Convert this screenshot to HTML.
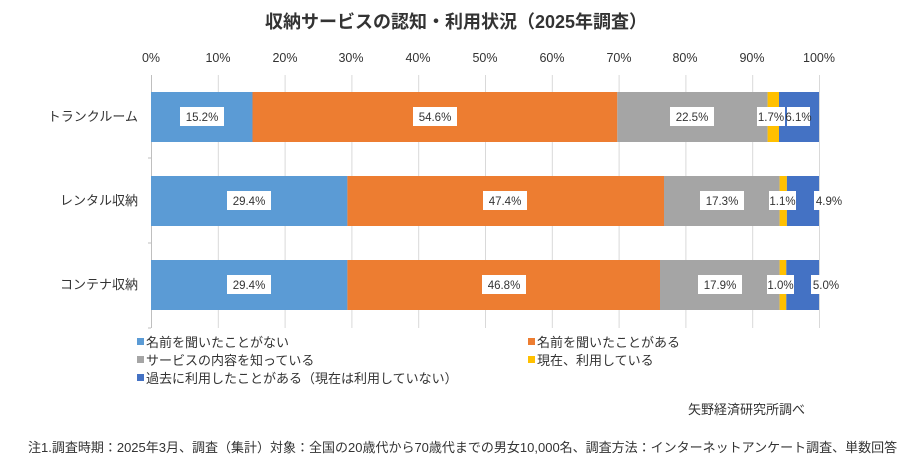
<!DOCTYPE html>
<html><head><meta charset="utf-8"><style>
body{margin:0;background:#fff;}
svg text{font-family:"Liberation Sans","Noto Sans CJK JP",sans-serif;fill:#333;}
</style></head><body>
<svg width="912" height="466" xmlns="http://www.w3.org/2000/svg">
<rect width="912" height="466" fill="#fff"/>
<text x="456" y="28" text-anchor="middle" font-size="18" font-weight="bold" fill="#555">収納サービスの認知・利用状況（2025年調査）</text>
<g font-size="12.5" text-anchor="middle">
<text x="151" y="62">0%</text><text x="218" y="62">10%</text><text x="285" y="62">20%</text><text x="351" y="62">30%</text><text x="418" y="62">40%</text><text x="485" y="62">50%</text><text x="552" y="62">60%</text><text x="619" y="62">70%</text><text x="685" y="62">80%</text><text x="752" y="62">90%</text><text x="819" y="62">100%</text>
</g>
<g stroke="#d9d9d9" stroke-width="1">
<line x1="151.5" y1="75" x2="151.5" y2="328" stroke="#bfbfbf"/>
<line x1="218.3" y1="75" x2="218.3" y2="328"/><line x1="285.1" y1="75" x2="285.1" y2="328"/><line x1="351.9" y1="75" x2="351.9" y2="328"/><line x1="418.7" y1="75" x2="418.7" y2="328"/><line x1="485.5" y1="75" x2="485.5" y2="328"/><line x1="552.3" y1="75" x2="552.3" y2="328"/><line x1="619.1" y1="75" x2="619.1" y2="328"/><line x1="685.9" y1="75" x2="685.9" y2="328"/><line x1="752.7" y1="75" x2="752.7" y2="328"/><line x1="819.5" y1="75" x2="819.5" y2="328"/>
</g>
<g stroke="#bfbfbf"><line x1="148" y1="158" x2="151" y2="158"/><line x1="148" y1="243" x2="151" y2="243"/><line x1="148" y1="328" x2="151" y2="328"/></g>
<rect x="151" y="92" width="101.5" height="50" fill="#5b9bd5"/>
<rect x="252.5" y="92" width="364.8" height="50" fill="#ed7d31"/>
<rect x="617.3" y="92" width="150.3" height="50" fill="#a5a5a5"/>
<rect x="767.6" y="92" width="11.4" height="50" fill="#ffc000"/>
<rect x="779" y="92" width="40" height="50" fill="#4472c4"/>
<rect x="151" y="176" width="196.4" height="50" fill="#5b9bd5"/>
<rect x="347.4" y="176" width="316.6" height="50" fill="#ed7d31"/>
<rect x="664" y="176" width="115.6" height="50" fill="#a5a5a5"/>
<rect x="779.6" y="176" width="7.3" height="50" fill="#ffc000"/>
<rect x="786.9" y="176" width="32.1" height="50" fill="#4472c4"/>
<rect x="151" y="260" width="196.4" height="50" fill="#5b9bd5"/>
<rect x="347.4" y="260" width="312.6" height="50" fill="#ed7d31"/>
<rect x="660" y="260" width="119.6" height="50" fill="#a5a5a5"/>
<rect x="779.6" y="260" width="6.7" height="50" fill="#ffc000"/>
<rect x="786.3" y="260" width="32.7" height="50" fill="#4472c4"/>
<g font-size="11.5" text-anchor="middle">
<g fill="#fff">
<rect x="180" y="107" width="44" height="19"/><rect x="413" y="107" width="44" height="19"/><rect x="670" y="107" width="44" height="19"/><rect x="757" y="107" width="28" height="19"/><rect x="787" y="107" width="23" height="19"/>
<rect x="227" y="191" width="44" height="19"/><rect x="483" y="191" width="44" height="19"/><rect x="700" y="191" width="44" height="19"/><rect x="769" y="191" width="27" height="19"/><rect x="814" y="191" width="30" height="19"/>
<rect x="227" y="275" width="44" height="19"/><rect x="482" y="275" width="44" height="19"/><rect x="698" y="275" width="44" height="19"/><rect x="767" y="275" width="27" height="19"/><rect x="811" y="275" width="30" height="19"/>
</g>
<text x="202" y="121">15.2%</text><text x="435" y="121">54.6%</text><text x="692" y="121">22.5%</text><text x="771" y="121">1.7%</text><text x="798.5" y="121">6.1%</text>
<text x="249" y="205">29.4%</text><text x="505" y="205">47.4%</text><text x="722" y="205">17.3%</text><text x="782.5" y="205">1.1%</text><text x="829" y="205">4.9%</text>
<text x="249" y="289">29.4%</text><text x="504" y="289">46.8%</text><text x="720" y="289">17.9%</text><text x="780.5" y="289">1.0%</text><text x="826" y="289">5.0%</text>
</g>
<g font-size="13" text-anchor="end">
<text x="138" y="121">トランクルーム</text><text x="138" y="205">レンタル収納</text><text x="138" y="289">コンテナ収納</text>
</g>
<g font-size="13">
<rect x="137" y="338" width="7" height="7" fill="#5b9bd5"/><text x="146" y="347">名前を聞いたことがない</text>
<rect x="137" y="356" width="7" height="7" fill="#a5a5a5"/><text x="146" y="365">サービスの内容を知っている</text>
<rect x="137" y="374" width="7" height="7" fill="#4472c4"/><text x="146" y="383">過去に利用したことがある（現在は利用していない）</text>
<rect x="528" y="338" width="7" height="7" fill="#ed7d31"/><text x="537" y="347">名前を聞いたことがある</text>
<rect x="528" y="356" width="7" height="7" fill="#ffc000"/><text x="537" y="365">現在、利用している</text>
<text x="688" y="414">矢野経済研究所調べ</text>
<text x="28" y="452">注1.調査時期：2025年3月、調査（集計）対象：全国の20歳代から70歳代までの男女10,000名、調査方法：インターネットアンケート調査、単数回答</text>
</g>
</svg>
</body></html>
